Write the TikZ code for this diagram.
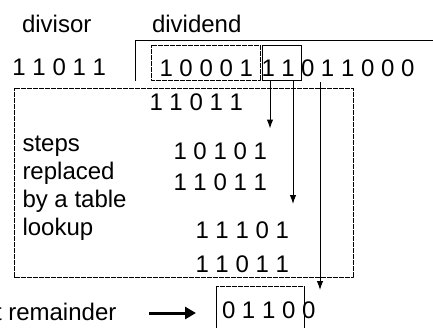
\documentclass[tikz,border=0pt]{standalone}
\usepackage{fontspec}
\setmainfont{Liberation Sans}
\usetikzlibrary{arrows.meta}
\begin{document}
\begin{tikzpicture}[x=1pt,y=-1pt,
  txt/.style={anchor=base west,inner sep=0pt,outer sep=0pt,font=\fontsize{24}{27.7}\selectfont},
  dotbox/.style={draw=black,line width=1pt,dash pattern=on 0.7pt off 0.5pt},
  solidline/.style={draw=black,line width=1pt},
  downarrow/.style={draw=black,line width=1pt,-{Latex[length=9pt,width=6.5pt]}},
  fatarrow/.style={draw=black,line width=3pt,-{Triangle[length=11pt,width=12pt]}}]
\useasboundingbox (0,0) rectangle (433,327);
% labels
\node[txt] (divisor) at (22,32) {divisor};
\node[txt] (dividend) at (152,32) {dividend};
\node[txt] (dvs) at (12.5,75) {1 1 0 1 1};
\node[txt] (d1) at (159.5,76) {1 0 0 0 1};
\node[txt] (d2) at (261.5,76) {1 1};
\node[txt] (d3) at (301,76) {0 1 1 0 0 0};
% division bracket
\coordinate (brTR) at (433,40);
\coordinate (brTL) at (135,40);
\coordinate (brBL) at (135,81);
\draw[solidline] (brTR) -- (brTL) -- (brBL);
% boxes on dividend
\coordinate (b1a) at (151,45);
\coordinate (b1b) at (260,80);
\draw[dotbox] (b1a) rectangle (b1b);
\coordinate (b2a) at (262,45.5);
\coordinate (b2b) at (301,80.5);
\draw[solidline] (b2a) rectangle (b2b);
% big table box
\coordinate (tba) at (14,88);
\coordinate (tbb) at (353,277);
\draw[dotbox] (tba) rectangle (tbb);
% inner rows
\node[txt] (r1) at (149.5,110) {1 1 0 1 1};
\node[txt] (r2) at (173.5,159) {1 0 1 0 1};
\node[txt] (r3) at (173.5,190) {1 1 0 1 1};
\node[txt] (r4) at (195.5,238) {1 1 1 0 1};
\node[txt] (r5) at (195.5,272) {1 1 0 1 1};
\node[txt,align=left,anchor=base west] (steps) at (22.5,235) {steps\\replaced\\by a table\\lookup};
% arrows down
\coordinate (a1s) at (270,80.5);
\coordinate (a1e) at (270,128.5);
\coordinate (a2s) at (293,80.5);
\coordinate (a2e) at (293,204);
\coordinate (a3s) at (320,82);
\coordinate (a3e) at (320,290);
\draw[downarrow] (a1s) -- (a1e);
\draw[downarrow] (a2s) -- (a2e);
\draw[downarrow] (a3s) -- (a3e);
% remainder
\coordinate (rbl) at (216,330);
\coordinate (rtl) at (216,286);
\coordinate (rtr) at (304,286);
\coordinate (rbr) at (304,330);
\draw[solidline] (rbl) -- (rtl);
\draw[dotbox] (rtl) -- (rtr);
\draw[solidline] (rtr) -- (rbr);
\node[txt] (rem) at (222,318) {0 1 1 0 0};
\node[txt] (remlabel) at (-5,320) {t remainder};
\coordinate (fas) at (149,313);
\coordinate (fae) at (196,313);
\draw[fatarrow] (fas) -- (fae);
\end{tikzpicture}
\end{document}
